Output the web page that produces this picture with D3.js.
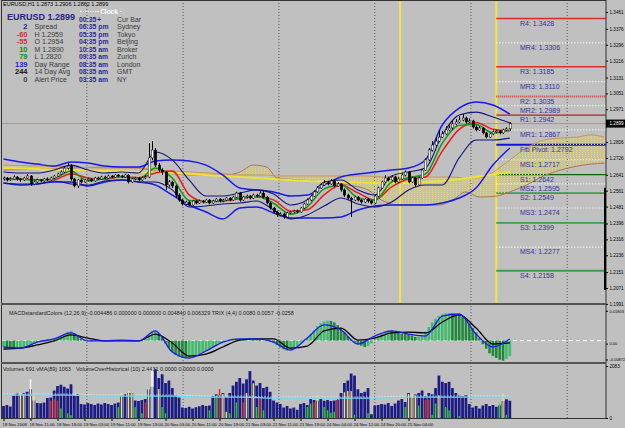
<!DOCTYPE html>
<html>
<head>
<meta charset="utf-8">
<title>EURUSD,H1</title>
<style>
	body { margin: 0; background: #c0c0c0; }
	svg { display: block; }
	text { font-family: "Liberation Sans", Arial, sans-serif; }
</style>
</head>
<body>
<svg id="chart" width="625" height="428"></svg>
<script src="https://cdnjs.cloudflare.com/ajax/libs/d3/7.8.5/d3.min.js"></script>
<script>

	// prices in points (1.2625 -> 12625), one entry per H1 bar
	var opens = [12620,12625,12615,12620,12630,12620,12615,12625,12635,12595,
		12605,12615,12610,12620,12615,12625,12635,12645,12655,12675,
		12685,12620,12585,12615,12605,12615,12620,12610,12625,12620,
		12630,12625,12635,12630,12640,12635,12630,12640,12605,12620,
		12625,12615,12625,12630,12726,12766,12690,12665,12655,12590,
		12605,12585,12539,12514,12494,12504,12489,12509,12499,12509,
		12504,12514,12499,12509,12519,12509,12514,12524,12514,12529,
		12549,12514,12529,12534,12524,12539,12534,12549,12529,12499,
		12474,12454,12439,12444,12429,12449,12454,12459,12454,12474,
		12494,12514,12534,12555,12575,12590,12600,12595,12610,12585,
		12595,12565,12539,12524,12514,12529,12514,12504,12519,12509,
		12499,12534,12575,12605,12625,12615,12630,12605,12620,12640,
		12655,12605,12625,12590,12625,12665,12716,12766,12791,12811,
		12831,12847,12867,12877,12897,12907,12917,12927,12907,12912,
		12882,12867,12877,12852,12831,12847,12857,12862,12852,12867,
		12873];
	var closes = [12625,12615,12620,12630,12620,12615,12625,12635,12595,12605,
		12615,12610,12620,12615,12625,12635,12645,12655,12675,12685,
		12620,12585,12615,12605,12615,12620,12610,12625,12620,12630,
		12625,12635,12630,12640,12635,12630,12640,12605,12620,12625,
		12615,12625,12630,12726,12766,12690,12665,12655,12590,12605,
		12585,12539,12514,12494,12504,12489,12509,12499,12509,12504,
		12514,12499,12509,12519,12509,12514,12524,12514,12529,12549,
		12514,12529,12534,12524,12539,12534,12549,12529,12499,12474,
		12454,12439,12444,12429,12449,12454,12459,12454,12474,12494,
		12514,12534,12555,12575,12590,12600,12595,12610,12585,12595,
		12565,12539,12524,12514,12529,12514,12504,12519,12509,12499,
		12534,12575,12605,12625,12615,12630,12605,12620,12640,12655,
		12605,12625,12590,12625,12665,12716,12766,12791,12811,12831,
		12847,12867,12877,12897,12907,12917,12927,12907,12912,12882,
		12867,12877,12852,12831,12847,12857,12862,12852,12867,12873,
		12899];
	var highs = [12632,12630,12628,12638,12634,12626,12631,12645,12640,12612,
		12622,12620,12626,12628,12632,12641,12652,12663,12683,12700,
		12695,12626,12621,12622,12620,12627,12625,12631,12632,12636,
		12637,12642,12640,12646,12645,12641,12647,12645,12626,12631,
		12630,12632,12637,12801,12811,12776,12700,12674,12660,12615,
		12612,12592,12548,12520,12511,12510,12515,12514,12516,12514,
		12520,12518,12515,12525,12523,12520,12530,12528,12536,12556,
		12555,12535,12541,12539,12546,12545,12560,12565,12535,12505,
		12480,12460,12452,12450,12455,12460,12465,12466,12480,12500,
		12522,12541,12562,12585,12600,12615,12610,12620,12616,12605,
		12600,12572,12546,12530,12536,12534,12520,12525,12524,12515,
		12540,12582,12612,12640,12632,12637,12636,12628,12648,12663,
		12660,12632,12630,12633,12672,12724,12776,12811,12830,12866,
		12862,12887,12897,12912,12922,12937,12947,12935,12925,12918,
		12890,12885,12882,12858,12853,12864,12868,12867,12873,12880,
		12906];
	var lows = [12612,12608,12610,12616,12612,12606,12610,12620,12585,12588,
		12600,12602,12605,12609,12611,12620,12630,12640,12650,12668,
		12612,12578,12575,12598,12600,12609,12604,12606,12614,12615,
		12619,12620,12624,12625,12629,12624,12626,12598,12600,12614,
		12609,12610,12619,12624,12715,12680,12655,12640,12565,12580,
		12575,12525,12505,12486,12488,12482,12484,12492,12494,12497,
		12499,12492,12494,12503,12502,12503,12508,12507,12509,12524,
		12506,12509,12522,12517,12519,12527,12529,12522,12492,12466,
		12446,12430,12432,12420,12424,12443,12448,12447,12449,12468,
		12489,12508,12528,12549,12570,12584,12588,12590,12578,12580,
		12556,12530,12516,12429,12508,12507,12496,12498,12501,12492,
		12494,12528,12569,12600,12608,12609,12598,12599,12615,12634,
		12598,12599,12580,12585,12619,12660,12710,12758,12783,12805,
		12825,12840,12860,12870,12890,12900,12911,12899,12901,12874,
		12860,12861,12845,12824,12826,12841,12850,12845,12847,12860,
		12862];

	// indicator lines, read every 5 bars (points)
	var lineBars = d3.range(0, 151, 5);
	var bbUpper = [12721,12706,12695,12685,12706,12700,12685,12680,12680,12711,12716,12711,12690,12640,12575,12565,12555,12534,12539,12590,12630,12645,12655,12665,12675,12716,12892,12977,13008,12993,12947];
	var bbLower = [12600,12590,12595,12605,12605,12585,12605,12615,12605,12590,12539,12489,12454,12419,12474,12479,12449,12424,12424,12424,12429,12464,12484,12489,12489,12489,12499,12524,12575,12690,12776];
	var innerUpper = [12655,12650,12650,12665,12690,12665,12650,12655,12650,12756,12716,12615,12534,12534,12549,12565,12544,12489,12514,12605,12615,12565,12539,12635,12655,12675,12842,12942,12957,12932,12902];
	var innerLower = [12600,12595,12595,12610,12595,12590,12610,12615,12605,12605,12565,12479,12484,12494,12499,12509,12464,12419,12439,12484,12524,12494,12479,12504,12565,12590,12590,12726,12816,12816,12826];
	var maSlow = [12622,12620,12616,12617,12647,12625,12618,12631,12626,12650,12660,12540,12505,12509,12520,12530,12515,12458,12465,12540,12590,12550,12515,12580,12620,12630,12760,12870,12905,12870,12862];
	var maFast = [12621,12620,12612,12622,12660,12610,12622,12633,12620,12675,12625,12512,12507,12511,12526,12532,12498,12443,12480,12570,12590,12525,12512,12605,12626,12645,12800,12890,12895,12852,12868];
	var longBars = d3.range(0, 151, 10);
	var maLong = [12675,12670,12665,12660,12655,12650,12640,12630,12620,12610,12605,12600,12600,12610,12630,12655];

	// cloud, shifted forward past the last bar
	var cloudBars = [0,10,20,30,40,46,56,66,70,74,78,81,88,95,102,108,112,117,123,129,133,137,141,146,150,155,160,165,170,174,178];
	var spanA = [12690,12685,12680,12675,12675,12665,12655,12645,12640,12640,12640,12635,12635,12635,12635,12635,12630,12630,12630,12630,12630,12625,12625,12665,12716,12776,12816,12826,12831,12842,12831];
	var spanB = [12665,12670,12675,12680,12675,12655,12640,12640,12655,12690,12680,12625,12615,12605,12590,12565,12514,12489,12489,12489,12514,12555,12529,12534,12555,12590,12635,12665,12685,12695,12700];

	var pivotNames = ["R4","MR4","R3","MR3","R2","MR2","R1","MR1","Fib Pivot","MS1","S1","MS2","S2","MS3","S3","MS4","S4"];
	var pivotValues = [1.3428,1.3306,1.3185,1.3110,1.3035,1.2989,1.2942,1.2867,1.2792,1.2717,1.2642,1.2595,1.2549,1.2474,1.2399,1.2277,1.2158];

	var priceTicks = [1.3461,1.3376,1.3296,1.3216,1.3131,1.3051,1.2971,1.2806,1.2726,1.2641,1.2561,1.2481,1.2396,1.2316,1.2236,1.2151,1.2071,1.1991];
	var lastPrice = 1.2899;
	var timeLabels = ["18 Nov 2008","18 Nov 11:00","18 Nov 19:00","19 Nov 03:00","19 Nov 11:00","19 Nov 19:00","20 Nov 03:00","20 Nov 11:00","20 Nov 19:00","21 Nov 03:00","21 Nov 11:00","21 Nov 19:00","24 Nov 04:00","24 Nov 12:00","24 Nov 20:00","25 Nov 04:00"];
	var timeBars = d3.range(0, 121, 8);
	var gridBars = [24.7, 53.2, 81.6, 110, 138.5, 167];
	var sepBars = [117.5, 146];

	// MACD window, in units of 0.0001
	var macdMain = [-35,-41,-8,9,42,-2,-2,3,-2,53,-63,-96,-57,-8,9,9,-8,-52,14,86,58,-19,25,53,36,25,135,146,36,-35,9];
	var macdSignal = [-46,-41,-24,-2,31,14,-2,-2,-2,36,-13,-85,-74,-35,3,9,9,-41,-30,53,69,3,14,42,47,42,102,141,69,-19,-13];
	var macdHist = [-35,-38,-40,-41,-41,-40,-36,-30,-22,-14,
		-8,-3,2,6,9,12,18,26,34,48,
		52,38,25,12,4,-2,-4,-3,-1,0,
		1,2,2,3,3,3,2,1,0,-1,
		-2,-1,10,30,50,53,40,15,-15,-40,
		-63,-78,-88,-95,-96,-96,-90,-82,-74,-65,
		-57,-48,-38,-28,-17,-8,0,6,10,12,
		9,8,9,11,10,9,8,2,-3,-6,
		-10,-25,-38,-48,-55,-52,-42,-28,-10,5,
		14,35,55,80,95,105,110,108,100,85,
		70,45,25,5,-10,-19,-28,-35,-30,-15,
		5,25,40,50,55,53,48,42,38,36,
		34,28,20,22,30,50,75,100,120,135,
		145,150,152,150,146,140,130,115,95,70,
		45,15,-20,-45,-70,-85,-95,-105,-110,-100,
		-85];
	var macdTicks = [180.3, 0, -87.2];
	var macdTickLabels = ["0.01803", "0.00", "-0.00872"];

	var volumes = [480,520,460,900,980,940,1000,1050,1150,700,
		600,590,620,800,820,1100,1280,1330,1250,1180,
		1350,900,950,560,540,600,560,520,580,540,
		600,560,520,580,620,900,950,1000,1000,700,
		680,720,760,1150,1250,1950,1600,1750,1400,1500,
		1200,900,820,420,400,450,380,430,470,520,
		480,500,880,950,900,1000,850,1000,1300,1450,
		1600,1380,1550,1880,1500,1300,1400,1200,1250,1050,
		700,620,560,420,480,380,420,330,560,600,
		520,760,720,700,760,690,720,680,700,720,
		1000,1400,1500,1780,1700,1150,1000,1050,1200,150,
		500,520,560,540,600,480,580,700,760,640,
		1000,820,940,1000,1100,880,1000,950,1200,1700,
		1450,1400,1450,1200,1000,900,880,920,560,420,
		480,380,500,560,480,520,450,500,680,750,
		691];
	var vohBars = [5,6,8,9,14,15,16,17,19,20,34,35,37,38,39,41,42,43,44,46,47,48,61,63,64,65,66,67,69,71,72,74,75,76,77,90,91,92,93,95,96,97,98,99,101,102,103,104,108,119,120,121,122,123,125,126,127,128,129,131,132,135,147,148,149];
	var vohValues = [1000,970,1545,965,695,770,695,385,190,115,440,1000,1080,1000,440,190,625,1200,1970,1160,440,190,310,900,1160,965,250,190,625,625,1000,1390,440,770,310,440,570,625,900,440,310,210,250,770,1030,1080,1080,130,190,440,965,965,900,500,730,730,130,580,900,440,310,80,570,1000,130];
	var vohKinds = "yywyrrrgggg yyygg ryw yggg gry yggryy grg ggryggggryyygg gyyyg rrggygg g gyg".replace(/ /g, "");
	var volMa = [920,920,920,880,880,880,840,840,800,800,800,800,840,840,840,840];
	var volAvg = [960,960,960,920,920,920,880,880,840,840,840,840,880,880,880,880];

	var infoNums = ["2","-60","-55","10","79","139","244","0"];
	var infoNames = ["Spread","H  1.2959","O  1.2954","M  1.2890","L  1.2820","Day Range","14 Day Avg","Alert Price"];
	var clockTimes = ["00:35","06:35 pm","05:35 pm","04:35 pm","10:35 am","09:35 am","08:35 am","08:35 am","03:35 am"];
	var clockNames = ["Cur Bar","Sydney","Tokyo","Beijing","Broker","Zurich","London","GMT","NY"];

	var svg = d3.select("#chart");
	var pt = function(v) { return v / 10000; };

	var x = d3.scaleLinear().domain([0, 178.5]).range([3.5, 606]);
	var y = d3.scaleLinear().domain([1.2071, 1.3461]).range([288, 12]);
	var yM = d3.scaleLinear().domain([-112, 190]).range([361, 306]);
	var yV = d3.scaleLinear().domain([0, 2083]).range([418, 366]);

	var defs = svg.append("defs");
	var pat = defs.append("pattern").attr("id", "kumo")
		.attr("patternUnits", "userSpaceOnUse").attr("width", 3).attr("height", 2);
	pat.append("rect").attr("width", 1).attr("height", 1).attr("fill", "#e8da48");
	defs.append("clipPath").attr("id", "clipMain").append("rect")
		.attr("x", 2).attr("y", 0).attr("width", 604).attr("height", 303);
	defs.append("clipPath").attr("id", "clipMacd").append("rect")
		.attr("x", 2).attr("y", 305).attr("width", 604).attr("height", 57);
	defs.append("clipPath").attr("id", "clipVol").append("rect")
		.attr("x", 2).attr("y", 364).attr("width", 604).attr("height", 54);

	svg.append("rect").attr("width", 625).attr("height", 428).attr("fill", "#c0c0c0");

	// vertical grid through all windows
	svg.append("g").selectAll("line").data(gridBars).enter().append("line")
		.attr("x1", function(d) { return x(d); }).attr("x2", function(d) { return x(d); })
		.attr("y1", 0).attr("y2", 418)
		.attr("stroke", "#555").attr("stroke-width", 1).attr("stroke-dasharray", "1,2");

	var main = svg.append("g").attr("clip-path", "url(#clipMain)");

	// yellow session lines
	main.selectAll(".sep").data(sepBars).enter().append("line")
		.attr("x1", function(d) { return x(d); }).attr("x2", function(d) { return x(d); })
		.attr("y1", 0).attr("y2", 303).attr("stroke", "#f0e640").attr("stroke-width", 2);

	// bid line
	main.append("line").attr("x1", 2).attr("x2", 606)
		.attr("y1", y(lastPrice)).attr("y2", y(lastPrice))
		.attr("stroke", "#a8968a").attr("stroke-width", 1);

	// pivot levels
	var pivotStyle = function(name) {
		if (name === "R2") return {c: "#e83030", w: 2, d: "1,1"};
		if (name === "R1") return {c: "#b02424", w: 1.2, d: null};
		if (name[0] === "R") return {c: "#e02a2a", w: 1.6, d: null};
		if (name[0] === "M") return {c: "#ffffff", w: 1.2, d: "1,2"};
		if (name[0] === "F") return {c: "#1212d8", w: 2, d: null};
		if (name === "S1") return {c: "#0a640a", w: 1.3, d: null};
		return {c: "#3c9c4c", w: 1.8, d: null};
	};
	var piv = main.append("g");
	pivotNames.forEach(function(name, i) {
		var s = pivotStyle(name);
		var yy = y(pivotValues[i]);
		piv.append("line").attr("x1", x(sepBars[1])).attr("x2", 606)
			.attr("y1", yy).attr("y2", yy).attr("stroke", s.c)
			.attr("stroke-width", s.w).attr("stroke-dasharray", s.d);
	});

	// cloud
	var cloudArea = d3.area()
		.x(function(d, i) { return x(cloudBars[i]); })
		.y0(function(d, i) { return y(pt(spanB[i])); })
		.y1(function(d) { return y(pt(d)); })
		.curve(d3.curveMonotoneX);
	main.append("path").datum(spanA).attr("d", cloudArea).attr("fill", "url(#kumo)");

	var lineOf = function(bars) {
		return d3.line()
			.x(function(d, i) { return x(bars[i]); })
			.y(function(d) { return y(pt(d)); })
			.curve(d3.curveMonotoneX);
	};
	var drawLine = function(g, data, bars, color, width) {
		g.append("path").datum(data).attr("d", lineOf(bars))
			.attr("fill", "none").attr("stroke", color).attr("stroke-width", width);
	};

	drawLine(main, spanB, cloudBars, "#a8745a", 1);
	drawLine(main, spanA, cloudBars, "#c8965a", 1);
	drawLine(main, maLong, longBars, "#ece23a", 2);
	drawLine(main, bbUpper, lineBars, "#1818f0", 1.5);
	drawLine(main, bbLower, lineBars, "#1818f0", 1.5);
	drawLine(main, innerUpper, lineBars, "#141480", 1.1);
	drawLine(main, innerLower, lineBars, "#141480", 1.1);
	drawLine(main, maSlow, lineBars, "#f01818", 1.5);
	drawLine(main, maFast, lineBars, "#109a10", 1.5);

	// candles
	var candles = main.append("g");
	closes.forEach(function(c, i) {
		var cx = Math.round(x(i)) + 0.5;
		candles.append("line").attr("x1", cx).attr("x2", cx)
			.attr("y1", y(pt(highs[i]))).attr("y2", y(pt(lows[i])))
			.attr("stroke", "#000").attr("stroke-width", 1);
		var top = y(pt(Math.max(opens[i], c)));
		var bot = y(pt(Math.min(opens[i], c)));
		candles.append("rect").attr("x", cx - 1.2).attr("width", 2.4)
			.attr("y", top).attr("height", Math.max(bot - top, 0.8))
			.attr("fill", c >= opens[i] ? "#fff" : "#000")
			.attr("stroke", "#000").attr("stroke-width", 0.5);
	});

	// pivot labels
	pivotNames.forEach(function(name, i) {
		svg.append("text").attr("x", 520).attr("y", y(pivotValues[i]) + 7)
			.attr("font-size", 7).attr("fill", "#34349c")
			.text(name + ": " + pivotValues[i].toFixed(4));
	});

	// info panel
	svg.append("text").attr("x", 3).attr("y", 6).attr("font-size", 5.5).attr("fill", "#000")
		.text("EURUSD,H1  1.2873 1.2906 1.2862 1.2899");
	svg.append("text").attr("x", 7).attr("y", 20).attr("font-size", 9).attr("font-weight", "bold")
		.attr("fill", "#24248c").text("EURUSD  1.2899");
	svg.append("line").attr("x1", 80).attr("x2", 122).attr("y1", 11.5).attr("y2", 11.5)
		.attr("stroke", "#fff").attr("stroke-dasharray", "1.5,1");
	svg.append("rect").attr("x", 99).attr("y", 8).attr("width", 20).attr("height", 7).attr("fill", "#c0c0c0");
	svg.append("text").attr("x", 109).attr("y", 14).attr("text-anchor", "middle")
		.attr("font-size", 6.5).attr("font-weight", "bold").attr("fill", "#fff").text("Clock");

	var numColors = ["#24248c","#d23030","#d23030","#138a13","#138a13","#2222d0","#111","#444"];
	var rowY = function(k) { return 19.2 + 7.5 * k + 2.6; };
	infoNums.forEach(function(n, k) {
		svg.append("text").attr("x", 27.5).attr("y", rowY(k + 1)).attr("text-anchor", "end")
			.attr("font-size", 7.5).attr("font-weight", "bold").attr("fill", numColors[k]).text(n);
		svg.append("text").attr("x", 34.5).attr("y", rowY(k + 1))
			.attr("font-size", 7).attr("fill", "#3a3a3a").text(infoNames[k]);
	});
	clockTimes.forEach(function(t, k) {
		svg.append("text").attr("x", 79).attr("y", rowY(k))
			.attr("font-size", 6.8).attr("font-weight", "bold").attr("fill", "#2a2a96").text(t);
		svg.append("text").attr("x", 117).attr("y", rowY(k))
			.attr("font-size", 7).attr("fill", "#3a3a3a").text(clockNames[k]);
	});
	svg.append("text").attr("x", 99).attr("y", rowY(0)).attr("text-anchor", "middle")
		.attr("font-size", 7).attr("font-weight", "bold").attr("fill", "#2a2a96").text("+");

	// MACD window
	var macd = svg.append("g").attr("clip-path", "url(#clipMacd)");
	macd.append("line").attr("x1", 2).attr("x2", 606).attr("y1", yM(0)).attr("y2", yM(0))
		.attr("stroke", "#fff").attr("stroke-dasharray", "4,3");
	macd.selectAll(".hist").data(macdHist).enter().append("rect")
		.attr("x", function(d, i) { return x(i) - 1.3; }).attr("width", 2.6)
		.attr("y", function(d) { return Math.min(yM(d), yM(0)); })
		.attr("height", function(d) { return Math.abs(yM(d) - yM(0)); })
		.attr("fill", function(d, i) { return i > 0 && d < macdHist[i - 1] ? "#1f8a3c" : "#42bc6c"; });
	var macdLine = function(bars) {
		return d3.line().x(function(d, i) { return x(bars[i]); })
			.y(function(d) { return yM(d); }).curve(d3.curveMonotoneX);
	};
	macd.append("path").datum(macdSignal).attr("d", macdLine(lineBars))
		.attr("fill", "none").attr("stroke", "#000").attr("stroke-width", 1.3);
	macd.append("path").datum(macdMain).attr("d", macdLine(lineBars))
		.attr("fill", "none").attr("stroke", "#1a1af0").attr("stroke-width", 1.3);
	svg.append("text").attr("x", 9).attr("y", 315).attr("font-size", 5.5).attr("fill", "#222")
		.text("MACDstandardColors  (12,26,9)  -0.004486 0.000000 0.000000 0.004840 0.006329      TRIX  (4,4)  0.0080 0.0057 -0.0258");

	// volume window
	var vol = svg.append("g").attr("clip-path", "url(#clipVol)");
	vol.selectAll(".vb").data(volumes).enter().append("rect")
		.attr("x", function(d, i) { return x(i) - 1.4; }).attr("width", 2.8)
		.attr("y", function(d) { return yV(d); })
		.attr("height", function(d) { return yV(0) - yV(d); })
		.attr("fill", "#1c1c84");
	var vohColor = {y: "#f0e070", r: "#e02424", g: "#10e010", w: "#ffffff"};
	vol.selectAll(".vo").data(vohValues).enter().append("rect")
		.attr("x", function(d, i) { return x(vohBars[i]) - 0.7; }).attr("width", 1.4)
		.attr("y", function(d) { return yV(d); })
		.attr("height", function(d) { return yV(0) - yV(d); })
		.attr("fill", function(d, i) { return vohColor[vohKinds[i]]; });
	var volLine = d3.line().x(function(d, i) { return x(longBars[i]); })
		.y(function(d) { return yV(d); }).curve(d3.curveMonotoneX);
	vol.append("path").datum(volAvg).attr("d", volLine).attr("fill", "none")
		.attr("stroke", "#fff").attr("stroke-dasharray", "1,2");
	vol.append("path").datum(volMa).attr("d", volLine).attr("fill", "none")
		.attr("stroke", "#70d8f0").attr("stroke-width", 1.3);
	svg.append("text").attr("x", 3).attr("y", 371).attr("font-size", 5.5).attr("fill", "#222")
		.text("Volumes 691   vMA(89) 1063");
	svg.append("text").attr("x", 76).attr("y", 371).attr("font-size", 5.5).attr("fill", "#222")
		.text("VolumeOverHistorical   (10)   2.4431 0.0000 0.0000 0.0000");

	// window frames
	var frame = svg.append("g");
	frame.append("rect").attr("x", 1.5).attr("y", 0.5).attr("width", 604.5).attr("height", 418)
		.attr("fill", "none").attr("stroke", "#333");
	[304, 363].forEach(function(yy) {
		frame.append("line").attr("x1", 1).attr("x2", 606).attr("y1", yy).attr("y2", yy)
			.attr("stroke", "#555").attr("stroke-width", 2);
	});

	var styleAxisText = function(g, size) {
		g.select(".domain").remove();
		g.selectAll("text").attr("font-size", size).attr("font-family", "Liberation Sans, Arial")
			.attr("fill", "#000").attr("x", 3.5);
	};

	// price axis
	svg.append("g").attr("transform", "translate(606,0)")
		.call(d3.axisRight(y).tickValues(priceTicks).tickSize(2).tickFormat(d3.format(".4f")))
		.call(styleAxisText, 4.6);
	svg.append("line").attr("x1", 605).attr("x2", 605)
		.attr("y1", y(1.2561) - 3).attr("y2", y(1.2071) + 2)
		.attr("stroke", "#000").attr("stroke-width", 2);
	svg.append("rect").attr("x", 606).attr("y", y(lastPrice) - 4).attr("width", 19).attr("height", 8).attr("fill", "#000");
	svg.append("text").attr("x", 609.5).attr("y", y(lastPrice) + 1.8).attr("font-size", 4.6).attr("fill", "#fff")
		.text(lastPrice.toFixed(4));

	svg.append("g").attr("transform", "translate(606,3)")
		.call(d3.axisRight(yM).tickValues(macdTicks).tickSize(2)
			.tickFormat(function(d, i) { return macdTickLabels[i]; }))
		.call(styleAxisText, 4);

	svg.append("g").attr("transform", "translate(606,0)")
		.call(d3.axisRight(yV).tickValues([0, 2083]).tickSize(2).tickFormat(d3.format("d")))
		.call(styleAxisText, 4.6);

	// time axis
	var axisB = svg.append("g").attr("transform", "translate(0,419)")
		.call(d3.axisBottom(x).tickValues(timeBars).tickSize(2)
			.tickFormat(function(d, i) { return timeLabels[i]; }));
	axisB.select(".domain").remove();
	axisB.selectAll("text").attr("font-size", 4.3).attr("font-family", "Liberation Sans, Arial")
		.attr("fill", "#000").attr("text-anchor", "start").attr("x", -1.5).attr("y", 3.5);

</script>
</body>
</html>
